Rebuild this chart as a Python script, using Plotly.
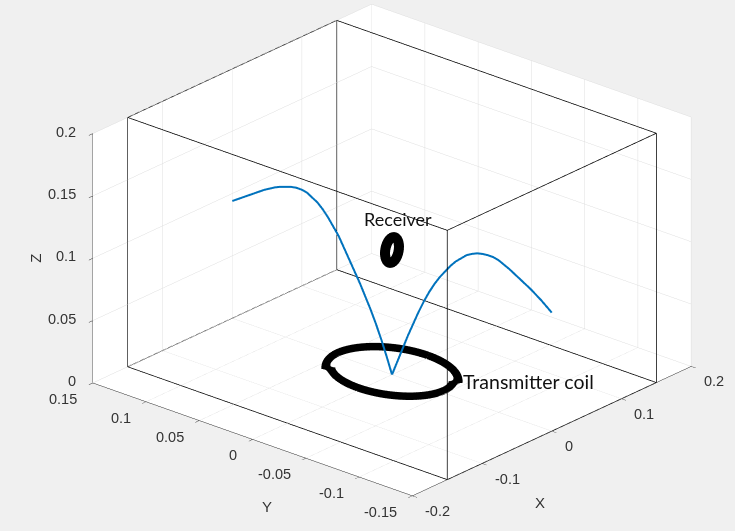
import numpy as np
import plotly.graph_objects as go

# Path of the probe, sampled in the plane x = 0
path_y = [0.150, 0.145, 0.140, 0.135, 0.130, 0.125, 0.120, 0.115, 0.110, 0.105,
          0.100, 0.095, 0.090, 0.085, 0.080, 0.075, 0.070, 0.065, 0.060, 0.055,
          0.050, 0.045, 0.040, 0.035, 0.030, 0.025, 0.020, 0.015, 0.010, 0.005,
          0.000,
          -0.005, -0.010, -0.015, -0.020, -0.025, -0.030, -0.035, -0.040, -0.045,
          -0.050, -0.055, -0.060, -0.065, -0.070, -0.075, -0.080, -0.085, -0.090,
          -0.095, -0.100, -0.105, -0.110, -0.115, -0.120, -0.125, -0.130, -0.135,
          -0.140, -0.145, -0.150]
path_z = [0.0940, 0.0970, 0.1000, 0.1030, 0.1060, 0.1090, 0.1120, 0.1145, 0.1170, 0.1190,
          0.1205, 0.1220, 0.1228, 0.1228, 0.1220, 0.1195, 0.1170, 0.1130, 0.1080, 0.1020,
          0.0960, 0.0880, 0.0800, 0.0720, 0.0640, 0.0550, 0.0460, 0.0360, 0.0250, 0.0130,
          0.0000,
          0.0120, 0.0240, 0.0360, 0.0470, 0.0580, 0.0680, 0.0770, 0.0850, 0.0920,
          0.0980, 0.1040, 0.1090, 0.1130, 0.1170, 0.1195, 0.1215, 0.1225, 0.1230,
          0.1230, 0.1220, 0.1200, 0.1180, 0.1155, 0.1130, 0.1105, 0.1080, 0.1050,
          0.1020, 0.0985, 0.0950]

# Coils: centre and radius
tx_center = (0.0, 0.0, 0.0)
tx_radius = 0.05
rx_center = (0.0, 0.0, 0.1)
rx_radius = 0.01

# Enclosure box
box_x = [-0.15, 0.15]
box_y = [-0.15, 0.15]
box_z = [0.0, 0.2]

# Axis limits and ticks
x_range = [-0.2, 0.2]
y_range = [-0.15, 0.15]
z_range = [0.0, 0.2]
x_ticks = [-0.2, -0.1, 0, 0.1, 0.2]
y_ticks = [-0.15, -0.1, -0.05, 0, 0.05, 0.1, 0.15]
z_ticks = [0, 0.05, 0.1, 0.15, 0.2]


def tick_text(v):
    return "%g" % v


theta = np.linspace(0, 2 * np.pi, 361)

fig = go.Figure()

# enclosure wireframe
ex, ey, ez = [], [], []
corners = [(x, y, z) for x in box_x for y in box_y for z in box_z]
for i, a in enumerate(corners):
    for b in corners[i + 1:]:
        if sum(p != q for p, q in zip(a, b)) == 1:
            ex += [a[0], b[0], None]
            ey += [a[1], b[1], None]
            ez += [a[2], b[2], None]
fig.add_trace(go.Scatter3d(x=ex, y=ey, z=ez, mode="lines",
                           line=dict(color="#000000", width=1.5),
                           hoverinfo="skip", showlegend=False))

# probe path
fig.add_trace(go.Scatter3d(x=[0.0] * len(path_y), y=path_y, z=path_z, mode="lines",
                           line=dict(color="#0072BD", width=4),
                           showlegend=False))

# transmitter coil (horizontal ring)
fig.add_trace(go.Scatter3d(
    x=tx_center[0] + tx_radius * np.cos(theta),
    y=tx_center[1] + tx_radius * np.sin(theta),
    z=np.full_like(theta, tx_center[2]),
    mode="lines", line=dict(color="#000000", width=28),
    hoverinfo="skip", showlegend=False))

# receiver coil (vertical ring, x-z plane)
fig.add_trace(go.Scatter3d(
    x=rx_center[0] + rx_radius * np.cos(theta),
    y=np.full_like(theta, rx_center[1]),
    z=rx_center[2] + rx_radius * np.sin(theta),
    mode="lines", line=dict(color="#000000", width=20),
    hoverinfo="skip", showlegend=False))

axis_common = dict(
    showbackground=True, backgroundcolor="#ffffff",
    gridcolor="#dedede", gridwidth=1,
    showline=True, linecolor="#262626", linewidth=1,
    ticks="outside", tickcolor="#262626", ticklen=6,
    zeroline=False, showspikes=False, showticklabels=False,
    title=dict(text=""),
)

tick_font = dict(family="Liberation Sans, Arial, sans-serif", size=14.5, color="#333333")
title_font = dict(family="Liberation Sans, Arial, sans-serif", size=15, color="#333333")
note_font = "Lato, Open Sans, sans-serif"

annotations = []
# z tick labels on the left vertical edge
for v in z_ticks:
    annotations.append(dict(x=x_range[0], y=y_range[1], z=v, text=tick_text(v),
                            showarrow=False, xanchor="right", yanchor="middle",
                            xshift=-14, yshift=2, font=tick_font))
# y tick labels along the left floor edge
for v in y_ticks:
    annotations.append(dict(x=x_range[0], y=v, z=z_range[0], text=tick_text(v),
                            showarrow=False, xanchor="right", yanchor="middle",
                            xshift=-13, yshift=-16, font=tick_font))
# x tick labels along the front floor edge
for v in x_ticks:
    annotations.append(dict(x=v, y=y_range[0], z=z_range[0], text=tick_text(v),
                            showarrow=False, xanchor="left", yanchor="middle",
                            xshift=11, yshift=-15, font=tick_font))
# axis titles
annotations += [
    dict(x=0, y=y_range[0], z=z_range[0], text="X", showarrow=False,
         xshift=-12, yshift=-71, font=title_font),
    dict(x=x_range[0], y=0, z=z_range[0], text="Y", showarrow=False,
         xshift=15, yshift=-67, font=title_font),
    dict(x=x_range[0], y=y_range[1], z=0.1, text="Z", showarrow=False,
         xshift=-57, yshift=0, textangle=-90, font=title_font),
]
# coil labels
annotations += [
    dict(x=rx_center[0], y=rx_center[1], z=rx_center[2], text="Receiver",
         showarrow=False, xshift=6, yshift=31,
         font=dict(family=note_font, size=18, color="#111111")),
    dict(x=tx_center[0], y=tx_center[1], z=tx_center[2], text="Transmitter coil",
         showarrow=False, xanchor="left", xshift=69, yshift=-7,
         font=dict(family=note_font, size=19.5, color="#111111")),
]

# orthographic view: the box size on screen follows the aspect ratio
zoom = 1.71
eye_dir = np.array([-0.689, -0.601, 0.405])
eye = 2.0 * eye_dir / np.linalg.norm(eye_dir)

fig.update_layout(
    width=735, height=531,
    margin=dict(l=0, r=0, t=0, b=0),
    paper_bgcolor="#f0f0f0",
    scene=dict(
        domain=dict(x=[0.066, 1.0], y=[0.062, 0.996]),
        aspectmode="manual",
        aspectratio=dict(x=zoom, y=zoom, z=0.643 * zoom),
        camera=dict(eye=dict(x=eye[0], y=eye[1], z=eye[2]),
                    up=dict(x=0, y=0, z=1), center=dict(x=0, y=0, z=0),
                    projection=dict(type="orthographic")),
        xaxis=dict(axis_common, range=x_range, tickvals=x_ticks),
        yaxis=dict(axis_common, range=y_range, tickvals=y_ticks),
        zaxis=dict(axis_common, range=z_range, tickvals=z_ticks),
        annotations=annotations,
    ),
)

fig.write_html("out.html")
